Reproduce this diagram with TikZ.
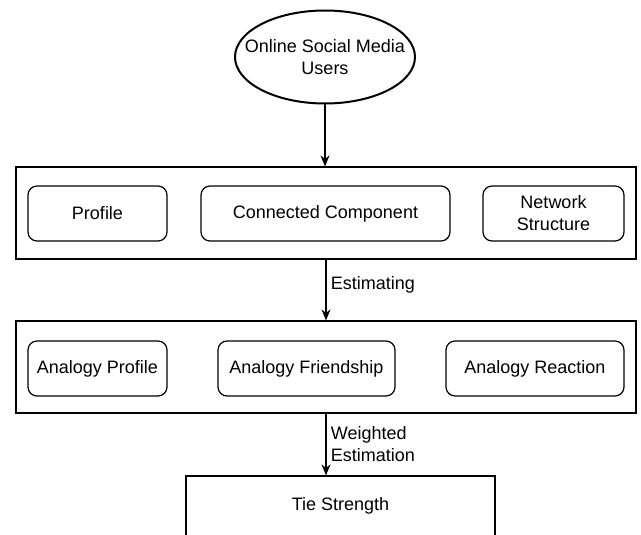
\documentclass[tikz,border=0pt]{standalone}
\usepackage{fontspec}
\setmainfont{Liberation Sans}
\usetikzlibrary{arrows.meta,shapes.geometric}

\begin{document}
\begin{tikzpicture}[x=1pt, y=-1pt,
    every node/.style={font=\fontsize{18}{22}\selectfont},
    layer/.style={draw, line width=1.2pt, minimum width=620pt, minimum height=92pt, inner sep=0pt},
    item/.style={draw, line width=1.2pt, rounded corners=9pt, minimum height=55pt, inner sep=0pt, align=center},
    link/.style={line width=1.2pt, -{Stealth[length=11pt,width=9pt]}}]
    \useasboundingbox (0, 0) rectangle (641, 535);
    \clip (0, 0) rectangle (641, 535);

    \node[ellipse, draw, line width=2pt, minimum width=180pt, minimum height=93pt, inner sep=0pt] (users) at (325, 57) {};
    \node[align=center] (users_text) at (users.center) {Online Social Media\\Users};

    \node[layer] (features) at (326, 213) {};
    \node[item, minimum width=139pt] (profile) at (97.5, 213.5) {Profile};
    \node[item, minimum width=249pt] (component) at (325.5, 213.5) {Connected Component};
    \node[item, minimum width=141pt] (structure) at (553.5, 213.5) {Network\\Structure};

    \node[layer] (analogy) at (326, 367) {};
    \node[item, minimum width=139pt] (an_profile) at (97.5, 368.5) {Analogy Profile};
    \node[item, minimum width=177pt] (an_friend) at (306.5, 368.5) {Analogy Friendship};
    \node[item, minimum width=178pt] (an_reaction) at (535, 368.5) {Analogy Reaction};

    \node[draw, line width=1.2pt, minimum width=309pt, minimum height=60pt, inner sep=0pt] (tie) at (340.5, 506) {Tie Strength};

    \draw[link]
    (users.south) -- (users.south |- features.north);
    \draw[link]
    (features.south) -- node[right, xshift=1pt, pos=0.42] (est) {Estimating} (analogy.north);
    \draw[link]
    (analogy.south) -- node[right, xshift=1pt, align=left, pos=0.5] (west) {Weighted\\Estimation} (analogy.south |- tie.north);

\end{tikzpicture}
\end{document}
